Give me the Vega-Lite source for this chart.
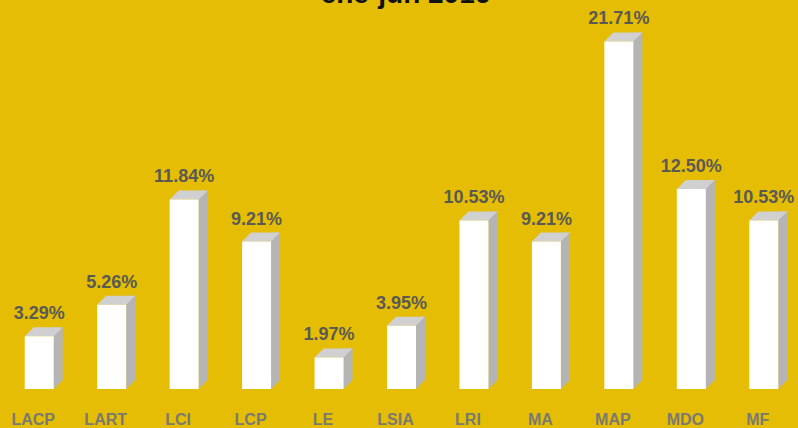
{
  "$schema": "https://vega.github.io/schema/vega-lite/v6.json",
  "width": 797,
  "height": 389,
  "autosize": {"type": "none"},
  "padding": {"left": 3, "top": 0, "right": -2, "bottom": 39},
  "background": "#E6BD05",
  "title": {"text": "ene-jun 2016", "fontSize": 28, "font": "Liberation Sans", "fontWeight": "bold", "color": "#111111", "anchor": "middle", "baseline": "alphabetic", "offset": 0, "dy": 31, "dx": 4},
  "config": {"view": {"stroke": null}},
  "data": {"values": [
    {"carrera": "LACP", "pct": 0.0329},
    {"carrera": "LART", "pct": 0.0526},
    {"carrera": "LCI", "pct": 0.1184},
    {"carrera": "LCP", "pct": 0.0921},
    {"carrera": "LE", "pct": 0.0197},
    {"carrera": "LSIA", "pct": 0.0395},
    {"carrera": "LRI", "pct": 0.1053},
    {"carrera": "MA", "pct": 0.0921},
    {"carrera": "MAP", "pct": 0.2171},
    {"carrera": "MDO", "pct": 0.1250},
    {"carrera": "MF", "pct": 0.1053}
  ]},
  "encoding": {
    "x": {"field": "carrera", "type": "nominal", "sort": null,
      "scale": {"paddingInner": 0, "paddingOuter": 0},
      "axis": {"title": null, "ticks": false, "domain": false, "grid": false, "labelFont": "Liberation Sans", "labelFontWeight": "bold", "labelFontSize": 16, "labelColor": "#7A7A70", "labelAngle": 0, "labelPadding": 35, "labelBaseline": "alphabetic", "labelOffset": -6}}
  },
  "layer": [
    {
      "mark": {"type": "bar", "width": 9, "xOffset": 19, "yOffset": -9, "y2Offset": -9, "color": "#B4B4B4"},
      "encoding": {"y": {"field": "pct", "type": "quantitative", "scale": {"domain": [0, 0.243], "nice": false}, "axis": null}}
    },
    {
      "mark": {"type": "point", "shape": "M -1 -1 L -1 1 L 1 -1 Z", "size": 81, "filled": true, "opacity": 1, "color": "#B4B4B4", "strokeWidth": 0, "xOffset": 19, "yOffset": -4.5},
      "encoding": {"y": {"datum": 0, "type": "quantitative"}}
    },
    {
      "mark": {"type": "point", "shape": "M -1 0.2368 L 0.5263 0.2368 L 1 -0.2368 L -0.5263 -0.2368 Z", "size": 1444, "filled": true, "opacity": 1, "color": "#D0D0D0", "strokeWidth": 0, "xOffset": 4.5, "yOffset": -4.5},
      "encoding": {"y": {"field": "pct", "type": "quantitative"}}
    },
    {
      "mark": {"type": "bar", "width": 29, "color": "#FFFFFF"},
      "encoding": {"y": {"field": "pct", "type": "quantitative"}}
    },
    {
      "mark": {"type": "text", "dy": -17, "baseline": "alphabetic", "font": "Liberation Sans", "fontWeight": "bold", "fontSize": 18, "color": "#5A5A55"},
      "encoding": {"y": {"field": "pct", "type": "quantitative"}, "text": {"field": "pct", "type": "quantitative", "format": ".2%"}}
    }
  ]
}
